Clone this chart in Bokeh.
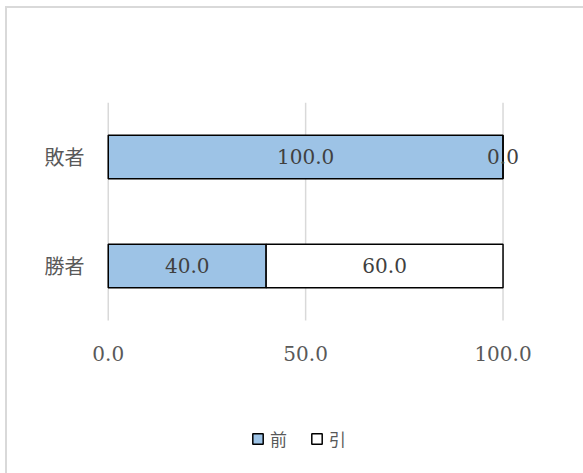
import pandas as pd
from bokeh.plotting import figure
from bokeh.models import (ColumnDataSource, Range1d, FixedTicker, Legend, LegendItem)
from bokeh.core.properties import value
from bokeh.embed import file_html
from bokeh.resources import INLINE

# --- data ---
categories = ["勝者", "敗者"]          # bottom to top
series_names = ["前", "引"]
values_mae = [40.0, 100.0]             # 前
values_hiki = [60.0, 0.0]              # 引
x_ticks = [0, 50, 100]
x_tick_labels = ["0.0", "50.0", "100.0"]

colors = ["#9DC3E6", "#FFFFFF"]

positions = list(range(len(categories)))
df = pd.DataFrame({"pos": positions, "cat": categories,
                   "前": values_mae, "引": values_hiki})
source = ColumnDataSource(df)

row_lo, row_hi = -0.5, len(categories) - 0.5

# the plotting frame runs down to the bottom edge so the tick labels and the
# legend below the bars can live inside it
p = figure(
    width=583, height=473,
    x_range=Range1d(-5, 110),
    y_range=Range1d(row_lo - 1.404, row_hi),
    min_border_left=88, min_border_right=41,
    min_border_top=102, min_border_bottom=0,
    x_axis_location=None,
    output_backend="svg", toolbar_location=None,
)
p.background_fill_color = None
p.border_fill_color = None
p.outline_line_color = None
p.grid.grid_line_color = None
# light chart-area border along the top and left edges
p.styles = {
    "background": (
        "linear-gradient(#d9d9d9,#d9d9d9) 5px 6px / 2px calc(100% - 6px) no-repeat, "
        "linear-gradient(#d9d9d9,#d9d9d9) 5px 6px / calc(100% - 5px) 2px no-repeat, "
        "#ffffff"
    )
}

# vertical gridlines spanning the category rows only
p.segment(x0=x_ticks, x1=x_ticks, y0=row_lo, y1=row_hi,
          line_color="#d9d9d9", line_width=1.5)

renderers = p.hbar_stack(series_names, y="pos", height=0.4, color=colors,
                         line_color="black", line_width=1.5, source=source)

# value labels at the centre of each segment
lab_x, lab_y, lab_t = [], [], []
left = [0.0] * len(categories)
for name in series_names:
    for i, pos in enumerate(positions):
        v = df[name][i]
        lab_x.append(left[i] + v / 2)
        lab_y.append(pos)
        lab_t.append(f"{v:.1f}")
        left[i] += v
p.text(x=lab_x, y=lab_y, text=lab_t, text_align="center", text_baseline="middle",
       text_font=value("DejaVu Serif"), text_font_size="20px", text_color="#404040")

# value-axis tick labels under the rows
p.text(x=x_ticks, y=[row_lo] * len(x_ticks), text=x_tick_labels,
       y_offset=33, text_align="center", text_baseline="middle",
       text_font=value("DejaVu Serif"), text_font_size="20px", text_color="#595959")

# category axis
p.yaxis.ticker = FixedTicker(ticks=positions)
p.yaxis.major_label_overrides = {pos: c for pos, c in zip(positions, categories)}
p.yaxis.axis_line_color = None
p.yaxis.major_tick_line_color = None
p.yaxis.minor_tick_line_color = None
p.yaxis.major_tick_out = 0
p.yaxis.major_tick_in = 0
p.yaxis.major_label_standoff = 4
p.yaxis.major_label_text_font = "Noto Sans CJK JP"
p.yaxis.major_label_text_font_size = "20px"
p.yaxis.major_label_text_color = "#595959"

legend = Legend(
    items=[LegendItem(label=n, renderers=[r]) for n, r in zip(series_names, renderers)],
    orientation="horizontal", location=(163, 22),
    glyph_width=13, glyph_height=13, label_standoff=6, spacing=20,
    label_text_font="Noto Sans CJK JP", label_text_font_size="17px",
    label_text_color="#595959", border_line_color=None, background_fill_color=None,
    padding=4, margin=0,
)
p.add_layout(legend)

open("out.html", "w").write(file_html(p, INLINE))
